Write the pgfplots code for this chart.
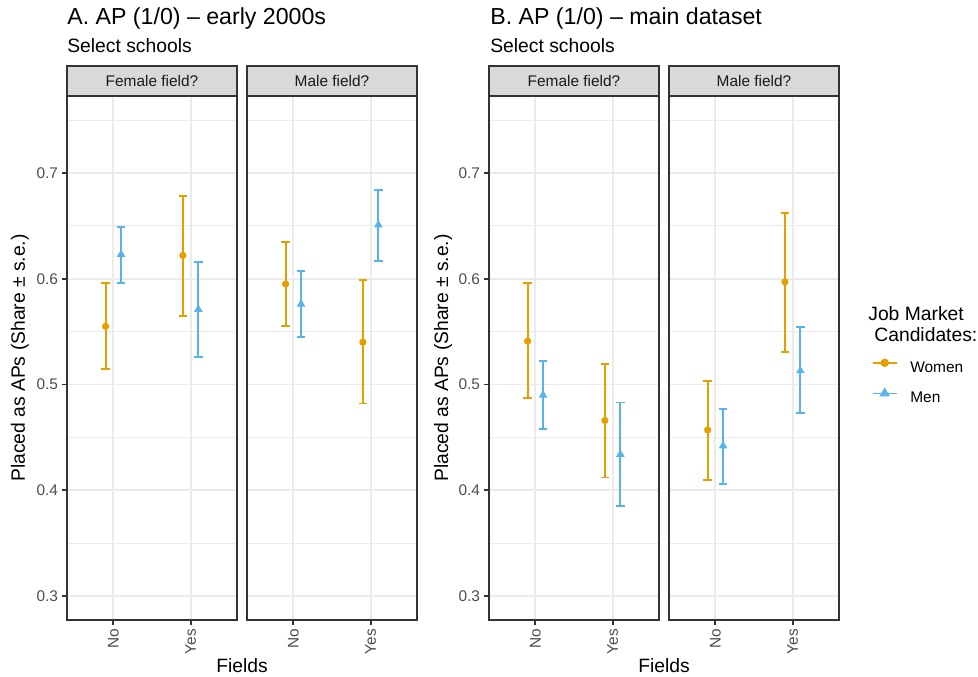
\documentclass[border=0pt]{standalone}
\usepackage{pgfplots}
\pgfplotsset{compat=1.18}
\usepackage{fontspec}
\setmainfont{Liberation Sans}
\definecolor{women}{HTML}{E69F00}
\definecolor{men}{HTML}{56B4E9}
\definecolor{grey92}{HTML}{EBEBEB}
\definecolor{grey85}{HTML}{D9D9D9}
\definecolor{grey20}{HTML}{333333}
\definecolor{grey30}{HTML}{4D4D4D}
\definecolor{grey10}{HTML}{1A1A1A}
\pgfplotsset{
 facet/.style={
  scale only axis, width=96.9pt, height=298.68pt,
  xmin=0.4, xmax=2.6, ymin=0.2773, ymax=0.7728,
  xtick={1,2}, xticklabels={No,Yes},
  ytick={0.3,0.4,0.5,0.6,0.7},
  minor ytick={0.35,0.45,0.55,0.65,0.75},
  grid=both,
  major grid style={draw=grey92, line width=1.07pt},
  minor grid style={draw=grey92, line width=0.53pt},
  axis line style={draw=grey20, line width=1.07pt},
  major tick style={draw=grey20, line width=1.07pt},
  major tick length=2.75pt, minor tick length=0pt,
  tick align=outside, tick pos=left,
  ticklabel style={font=\fontsize{8.8}{10}\selectfont, text=grey30},
  xticklabel style={rotate=90, anchor=east, inner sep=0pt, xshift=-2.2pt},
  yticklabel style={inner sep=0pt, xshift=-2.2pt},
  /pgf/number format/assume math mode=true,
 },
 nolab/.style={yticklabels={}, ytick style={draw=none}},
 ylab/.style={yticklabels={0.3,0.4,0.5,0.6,0.7}},
 W/.style={women, only marks, mark=*, mark size=1.85pt,
  error bars/.cd, y dir=both, y explicit,
  error bar style={line width=1.07pt, women},
  error mark options={women, line width=1.07pt, mark size=2.4pt, rotate=90}},
 M/.style={men, only marks, mark=triangle*, mark size=2.4pt,
  error bars/.cd, y dir=both, y explicit,
  error bar style={line width=1.07pt, men},
  error mark options={men, line width=1.07pt, mark size=2.4pt, rotate=90}},
}
\begin{document}
\begin{tikzpicture}
\useasboundingbox (0,0) rectangle (557.46pt,-385.89pt);
% Panel A, Female field
\begin{axis}[facet, ylab, at={(38.19pt,-353.4pt)}, anchor=south west]
\addplot[W] coordinates {(0.9,0.555) += (0,0.041) -= (0,0.040) (1.9,0.622) += (0,0.056) -= (0,0.057)};
\addplot[M] coordinates {(1.1,0.623) += (0,0.026) -= (0,0.027) (2.1,0.571) += (0,0.045) -= (0,0.045)};
\end{axis}
% Panel A, Male field
\begin{axis}[facet, nolab, at={(140.79pt,-353.4pt)}, anchor=south west]
\addplot[W] coordinates {(0.9,0.595) += (0,0.040) -= (0,0.040) (1.9,0.540) += (0,0.059) -= (0,0.058)};
\addplot[M] coordinates {(1.1,0.576) += (0,0.031) -= (0,0.031) (2.1,0.651) += (0,0.033) -= (0,0.034)};
\end{axis}
% Panel B, Female field
\begin{axis}[facet, ylab, at={(278.73pt,-353.4pt)}, anchor=south west]
\addplot[W] coordinates {(0.9,0.541) += (0,0.055) -= (0,0.054) (1.9,0.466) += (0,0.053) -= (0,0.054)};
\addplot[M] coordinates {(1.1,0.490) += (0,0.032) -= (0,0.032) (2.1,0.434) += (0,0.049) -= (0,0.049)};
\end{axis}
% Panel B, Male field
\begin{axis}[facet, nolab, at={(381.33pt,-353.4pt)}, anchor=south west,
  legend style={at={(1.192,0.497)}, anchor=north west, draw=none, fill=none,
    inner sep=0pt, outer sep=0pt,
    font=\fontsize{8.8}{10}\selectfont, row sep=8pt,
    /tikz/every odd column/.append style={column sep=7.2pt},
    nodes={inner sep=0pt, text height=6.3pt, text depth=1.8pt}},
  legend cell align=left,
  legend image code/.code={\draw[mark repeat=2, mark phase=2, #1] plot coordinates {(0pt,0pt) (6.9pt,0pt) (13.8pt,0pt)};}]
\addplot[forget plot, W] coordinates {(0.9,0.457) += (0,0.046) -= (0,0.047) (1.9,0.597) += (0,0.065) -= (0,0.066)};
\addplot[forget plot, M] coordinates {(1.1,0.442) += (0,0.035) -= (0,0.036) (2.1,0.513) += (0,0.041) -= (0,0.040)};
\addlegendimage{women, line width=1.07pt, mark=*, mark size=1.85pt, yshift=3pt}
\addlegendentry{Women}
\addlegendimage{men, line width=1.07pt, mark=triangle*, mark size=2.4pt, yshift=3pt}
\addlegendentry{Men}
\end{axis}
\begin{scope}[x=0.57pt, y=-0.57pt]
 % strips
 \foreach \l/\t in {67/Female field?, 247/Male field?, 489/Female field?, 669/Male field?}{
  \draw[fill=grey85, draw=grey20, line width=1.07pt] (\l,66) rectangle ({\l+170},96);
  \node[font=\fontsize{8.8}{10}\selectfont, text=grey10] at ({\l+85},81) {\t};
 }
 % titles
 \node[anchor=base west, inner sep=0pt, font=\fontsize{13.2}{15}\selectfont] at (67,24) {A. AP (1/0) – early 2000s};
 \node[anchor=base west, inner sep=0pt, font=\fontsize{11}{13}\selectfont] at (67,52) {Select schools};
 \node[anchor=base west, inner sep=0pt, font=\fontsize{13.2}{15}\selectfont] at (490,24) {B. AP (1/0) – main dataset};
 \node[anchor=base west, inner sep=0pt, font=\fontsize{11}{13}\selectfont] at (490,52) {Select schools};
 % axis labels
 \node[rotate=90, inner sep=0pt, font=\fontsize{11}{13}\selectfont] at (20,358) {Placed as APs (Share ± s.e.)};
 \node[rotate=90, inner sep=0pt, font=\fontsize{11}{13}\selectfont] at (443,358) {Placed as APs (Share ± s.e.)};
 \node[inner sep=0pt, font=\fontsize{11}{13}\selectfont] at (242,666) {Fields};
 \node[inner sep=0pt, font=\fontsize{11}{13}\selectfont] at (664,666) {Fields};
 % legend title
 \node[anchor=base west, inner sep=0pt, font=\fontsize{11}{13}\selectfont] at (868,320) {Job Market};
 \node[anchor=base west, inner sep=0pt, font=\fontsize{11}{13}\selectfont] at (874,341) {Candidates:};
\end{scope}
\end{tikzpicture}
\end{document}
